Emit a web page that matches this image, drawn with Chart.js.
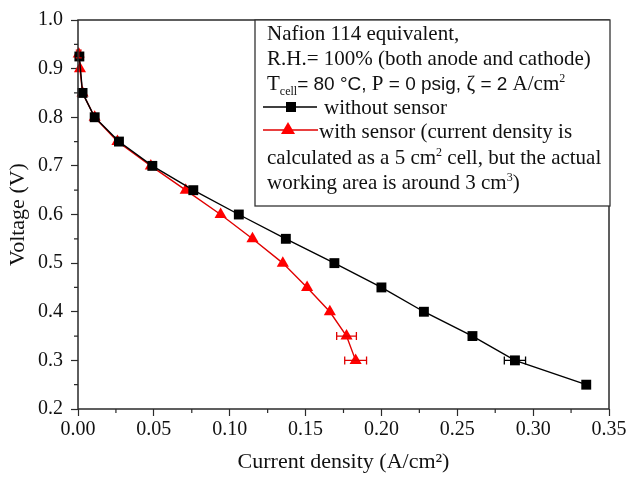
<!DOCTYPE html>
<html>
<head>
<meta charset="utf-8">
<script src="https://cdn.jsdelivr.net/npm/chart.js@4.4.1/dist/chart.umd.min.js"></script>
<style>
  html, body { margin: 0; padding: 0; background: #fff; }
</style>
</head>
<body>
<canvas id="c" width="629" height="478"></canvas>
<script>
// data
const blackX = [0.0009, 0.003, 0.011, 0.027, 0.049, 0.076, 0.106, 0.137, 0.169, 0.200, 0.228, 0.260, 0.288, 0.335];
const blackY = [0.925, 0.85, 0.80, 0.75, 0.70, 0.65, 0.60, 0.55, 0.50, 0.45, 0.40, 0.35, 0.30, 0.25];
const blackXErr = [0, 0, 0, 0, 0, 0, 0, 0, 0, 0, 0, 0, 0.007, 0];
const blackYErr = [0.008, 0, 0, 0, 0, 0, 0, 0, 0, 0, 0, 0, 0, 0];

const redX = [0.0005, 0.0013, 0.003, 0.011, 0.026, 0.048, 0.071, 0.094, 0.115, 0.135, 0.151, 0.166, 0.177, 0.183];
const redY = [0.93, 0.90, 0.85, 0.80, 0.75, 0.70, 0.65, 0.60, 0.55, 0.50, 0.45, 0.40, 0.35, 0.30];
const redXErr = [0, 0, 0, 0, 0, 0, 0, 0, 0, 0, 0, 0, 0.0065, 0.0072];
const redYErr = [0.008, 0, 0, 0, 0, 0, 0, 0, 0, 0, 0, 0, 0, 0];

const xTicks = [0, 0.05, 0.10, 0.15, 0.20, 0.25, 0.30, 0.35];
const yTicks = [0.2, 0.3, 0.4, 0.5, 0.6, 0.7, 0.8, 0.9, 1.0];

const serif = "'Liberation Serif', 'Times New Roman', serif";
const sans = "'Liberation Sans', Arial, sans-serif";
const axisColor = "#2a2a2a";

function pts(xs, ys) {
    return xs.map((x, i) => ({ x: x, y: ys[i] }));
}

// horizontal/vertical error bars, placed with the chart's scales
const errorBars = {
    id: "errorBars",
    afterDatasetsDraw(chart) {
        const ctx = chart.ctx, xs = chart.scales.x, ys = chart.scales.y;
        const sets = [[blackX, blackY, blackXErr, blackYErr, "#000"], [redX, redY, redXErr, redYErr, "#e00000"]];
        ctx.save();
        ctx.lineWidth = 1.3;
        sets.forEach(([X, Y, ex, ey, col]) => {
            ctx.strokeStyle = col;
            X.forEach((x, i) => {
                const py = ys.getPixelForValue(Y[i]), px = xs.getPixelForValue(x);
                if (ex[i] > 0) {
                    const a = xs.getPixelForValue(x - ex[i]), b = xs.getPixelForValue(x + ex[i]);
                    ctx.beginPath();
                    ctx.moveTo(a, py); ctx.lineTo(b, py);
                    ctx.moveTo(a, py - 4); ctx.lineTo(a, py + 4);
                    ctx.moveTo(b, py - 4); ctx.lineTo(b, py + 4);
                    ctx.stroke();
                }
                if (ey[i] > 0) {
                    const a = ys.getPixelForValue(Y[i] - ey[i]), b = ys.getPixelForValue(Y[i] + ey[i]);
                    ctx.beginPath();
                    ctx.moveTo(px, a); ctx.lineTo(px, b);
                    ctx.moveTo(px - 3, a); ctx.lineTo(px + 3, a);
                    ctx.moveTo(px - 3, b); ctx.lineTo(px + 3, b);
                    ctx.stroke();
                }
            });
        });
        ctx.restore();
    }
};

// write a run of [text, font, dy] pieces one after another
function runs(ctx, x, y, parts) {
    parts.forEach(([t, font, dy]) => {
        ctx.font = font;
        ctx.fillText(t, x, y + (dy || 0));
        x += ctx.measureText(t).width;
    });
}

// frame, minor ticks and the text box
const decor = {
    id: "decor",
    afterDraw(chart) {
        const ctx = chart.ctx, a = chart.chartArea, xs = chart.scales.x, ys = chart.scales.y;
        ctx.save();
        ctx.strokeStyle = axisColor;
        ctx.lineWidth = 1.5;
        ctx.strokeRect(a.left, a.top, a.right - a.left, a.bottom - a.top);

        ctx.lineWidth = 1.2;
        ctx.beginPath();
        for (let i = 0; i < xTicks.length - 1; i++) {
            const p = xs.getPixelForValue((xTicks[i] + xTicks[i + 1]) / 2);
            ctx.moveTo(p, a.bottom); ctx.lineTo(p, a.bottom + 4);
        }
        for (let i = 0; i < yTicks.length - 1; i++) {
            const p = ys.getPixelForValue((yTicks[i] + yTicks[i + 1]) / 2);
            ctx.moveTo(a.left, p); ctx.lineTo(a.left - 4, p);
        }
        ctx.stroke();

        // text box
        const bx = 255, by = a.top, bw = a.right + 1 - bx, bh = 206 - a.top;
        ctx.fillStyle = "#fff";
        ctx.fillRect(bx, by, bw, bh);
        ctx.strokeStyle = "#333";
        ctx.lineWidth = 1.3;
        ctx.strokeRect(bx, by, bw, bh);

        ctx.fillStyle = "#111";
        ctx.textBaseline = "alphabetic";
        ctx.textAlign = "left";
        const tx = 267;
        const f = "21px " + serif;
        const small = "12px " + serif;
        const sf = "19px " + sans;
        ctx.font = f;
        ctx.fillText("Nafion 114 equivalent,", tx, 40);
        ctx.fillText("R.H.= 100% (both anode and cathode)", tx, 65);

        runs(ctx, tx, 90, [
            ["T", f], ["cell", small, 5], ["= 80 °C, ", sf], ["P", f], [" = 0 psig, ", sf],
            ["ζ", f], [" = 2 ", sf], ["A/cm", f], ["2", small, -8]
        ]);

        // series samples
        const ly1 = 107, ly2 = 130;
        ctx.lineWidth = 1.4;
        ctx.strokeStyle = "#000";
        ctx.beginPath(); ctx.moveTo(263, ly1); ctx.lineTo(317, ly1); ctx.stroke();
        ctx.fillStyle = "#000";
        ctx.fillRect(291 - 5, ly1 - 5, 10, 10);
        ctx.strokeStyle = "#e00000";
        ctx.beginPath(); ctx.moveTo(263, ly2); ctx.lineTo(318, ly2); ctx.stroke();
        ctx.fillStyle = "#ff0000";
        ctx.beginPath();
        ctx.moveTo(288, ly2 - 8); ctx.lineTo(295, ly2 + 4); ctx.lineTo(281, ly2 + 4); ctx.closePath(); ctx.fill();

        ctx.fillStyle = "#111";
        ctx.font = f;
        ctx.fillText("without sensor", 324, 114);
        ctx.fillText("with sensor (current density is", 319, 138);

        runs(ctx, tx, 164, [["calculated as a 5 cm", f], ["2", small, -8], [" cell, but the actual", f]]);
        runs(ctx, tx, 189, [["working area is around 3 cm", f], ["3", small, -8], [")", f]]);
        ctx.restore();
    }
};

new Chart(document.getElementById("c").getContext("2d"), {
    type: "line",
    data: {
        datasets: [
            {
                label: "without sensor",
                data: pts(blackX, blackY),
                borderColor: "#000",
                backgroundColor: "#000",
                borderWidth: 1.4,
                pointStyle: "rect",
                pointRadius: 7,
                pointBorderWidth: 0,
                tension: 0,
                clip: false
            },
            {
                label: "with sensor",
                data: pts(redX, redY),
                borderColor: "#e00000",
                backgroundColor: "#ff0000",
                borderWidth: 1.4,
                pointStyle: "triangle",
                pointRadius: 7,
                pointBorderWidth: 0,
                tension: 0,
                clip: false
            }
        ]
    },
    options: {
        responsive: false,
        animation: false,
        layout: { padding: { top: 13, right: 20, left: 0, bottom: 0 } },
        plugins: {
            legend: { display: false },
            tooltip: { enabled: false }
        },
        scales: {
            x: {
                type: "linear",
                min: 0,
                max: 0.35,
                afterBuildTicks: s => { s.ticks = xTicks.map(v => ({ value: v })); },
                afterFit: s => { s.height = 69; },
                ticks: {
                    color: "#111",
                    font: { family: serif, size: 20 },
                    padding: 2,
                    maxRotation: 0,
                    callback: v => v.toFixed(2)
                },
                grid: { drawOnChartArea: false, tickLength: 7, tickColor: axisColor, tickWidth: 1.2 },
                border: { display: false },
                title: {
                    display: true,
                    text: "Current density (A/cm²)",
                    color: "#111",
                    font: { family: serif, size: 22 },
                    padding: { top: 0, bottom: 3 }
                }
            },
            y: {
                type: "linear",
                min: 0.2,
                max: 1.0,
                afterBuildTicks: s => { s.ticks = yTicks.map(v => ({ value: v })); },
                afterFit: s => { s.width = 78; },
                ticks: {
                    color: "#111",
                    font: { family: serif, size: 20 },
                    padding: 8,
                    callback: v => v.toFixed(1)
                },
                grid: { drawOnChartArea: false, tickLength: 7, tickColor: axisColor, tickWidth: 1.2 },
                border: { display: false },
                title: {
                    display: true,
                    text: "Voltage (V)",
                    color: "#111",
                    font: { family: serif, size: 22 },
                    padding: { top: 5, bottom: 0 }
                }
            }
        }
    },
    plugins: [errorBars, decor]
});
</script>
</body>
</html>
